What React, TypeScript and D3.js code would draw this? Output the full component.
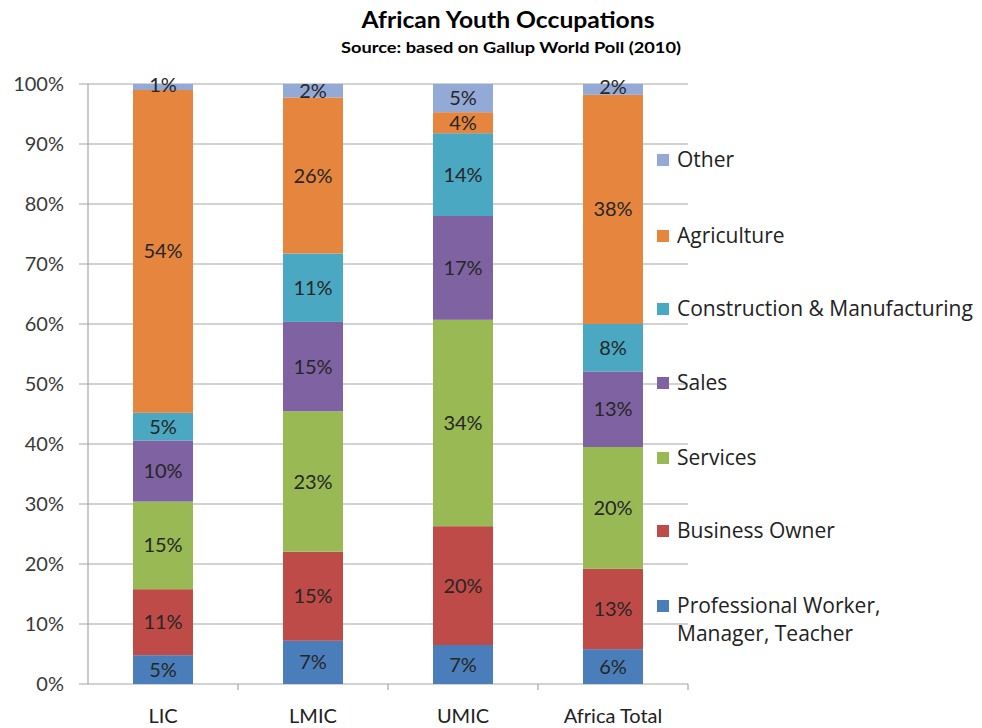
import React from "react";
import * as d3 from "d3";

const categories = ["LIC", "LMIC", "UMIC", "Africa Total"];
const seriesNames = [
  "Professional Worker, Manager, Teacher",
  "Business Owner",
  "Services",
  "Sales",
  "Construction & Manufacturing",
  "Agriculture",
  "Other",
];
const seriesColors = ["#4a7ebb", "#be4b48", "#98b954", "#7e62a1", "#4aa8c2", "#e6853e", "#93a9d6"];
// values per series, in category order
const professional = [4.8, 7.2, 6.5, 5.8];
const business = [11.0, 14.85, 19.8, 13.4];
const services = [14.6, 23.4, 34.4, 20.3];
const sales = [10.2, 14.9, 17.3, 12.6];
const construction = [4.6, 11.4, 13.8, 7.9];
const agriculture = [53.8, 26.0, 3.5, 38.2];
const other = [1.0, 2.25, 4.7, 1.8];
const yTicks = [0, 10, 20, 30, 40, 50, 60, 70, 80, 90, 100];

const seriesValues = [professional, business, services, sales, construction, agriculture, other];

const W = 982;
const H = 728;
const left = 88;
const right = 688;
const top = 84;
const bottom = 684;

export default function App() {
  const x = d3.scaleBand<string>().domain(categories).range([left, right]).paddingInner(0.6).paddingOuter(0.3);
  const xOuter = d3.scaleBand<string>().domain(categories).range([left, right]);
  const y = d3.scaleLinear().domain([0, 100]).range([bottom, top]);

  const rows = categories.map((c, i) => {
    const r: any = { cat: c };
    seriesNames.forEach((s, j) => (r[s] = seriesValues[j][i]));
    return r;
  });
  const stacked = d3.stack<any>().keys(seriesNames)(rows);

  const font = "Lato, 'Open Sans', sans-serif";
  const legendFont = "'Open Sans', Lato, sans-serif";
  const legendY = [160, 236, 309, 383, 458, 531, 606].reverse();

  return (
    <svg width={W} height={H} style={{ position: "absolute", left: 0, top: 0, background: "#fff" }} fontFamily={font}>
      <text x={508} y={28} textAnchor="middle" fontSize={23} fontWeight="bold" fill="#000" textLength={293} lengthAdjust="spacingAndGlyphs">
        African Youth Occupations
      </text>
      <text x={511} y={53} textAnchor="middle" fontSize={16} fontWeight="bold" fill="#000" textLength={340} lengthAdjust="spacingAndGlyphs">
        Source: based on Gallup World Poll (2010)
      </text>
      {yTicks.map((t) => (
        <g key={t}>
          <line x1={left - 9} x2={right} y1={y(t)} y2={y(t)} stroke="#a6a6a6" strokeWidth={1.2} />
          <text x={64} y={y(t)} dy="0.35em" textAnchor="end" fontSize={20} fill="#3a3a3a">
            {t}%
          </text>
        </g>
      ))}
      <line x1={left} x2={left} y1={top} y2={bottom} stroke="#a6a6a6" strokeWidth={1.2} />
      {categories.map((c) => (
        <line key={"t" + c} x1={xOuter(c)! + xOuter.bandwidth()} x2={xOuter(c)! + xOuter.bandwidth()} y1={bottom} y2={bottom + 6} stroke="#a6a6a6" strokeWidth={1.2} />
      ))}
      {stacked.map((layer, j) => (
        <g key={layer.key} fill={seriesColors[j]}>
          {layer.map((d, i) => (
            <rect key={i} x={x(categories[i])} width={x.bandwidth()} y={y(d[1])} height={y(d[0]) - y(d[1])} />
          ))}
        </g>
      ))}
      {stacked.map((layer, j) => (
        <g key={"l" + layer.key}>
          {layer.map((d, i) => (
            <text key={i} x={x(categories[i])! + x.bandwidth() / 2} y={(y(d[0]) + y(d[1])) / 2 - (j === 6 && d[1] - d[0] < 2 ? 2 : 0)} dy="0.35em" textAnchor="middle" fontSize={20} fill="#262626">
              {Math.round(d[1] - d[0])}%
            </text>
          ))}
        </g>
      ))}
      {categories.map((c) => (
        <text key={"c" + c} x={xOuter(c)! + xOuter.bandwidth() / 2} y={716} dy="0.35em" textAnchor="middle" fontSize={20} fill="#222">
          {c}
        </text>
      ))}
      {seriesNames.map((s, j) => {
        const ly = legendY[j];
        const lines = j === 0 ? ["Professional Worker,", "Manager, Teacher"] : [s];
        return (
          <g key={"lg" + s}>
            <rect x={657} y={ly - 6} width={12} height={12} fill={seriesColors[j]} />
            {lines.map((ln, k) => (
              <text key={k} x={677} y={ly + k * 28} dy="0.35em" fontSize={21} fill="#222" fontFamily={legendFont}>
                {ln}
              </text>
            ))}
          </g>
        );
      })}
    </svg>
  );
}
